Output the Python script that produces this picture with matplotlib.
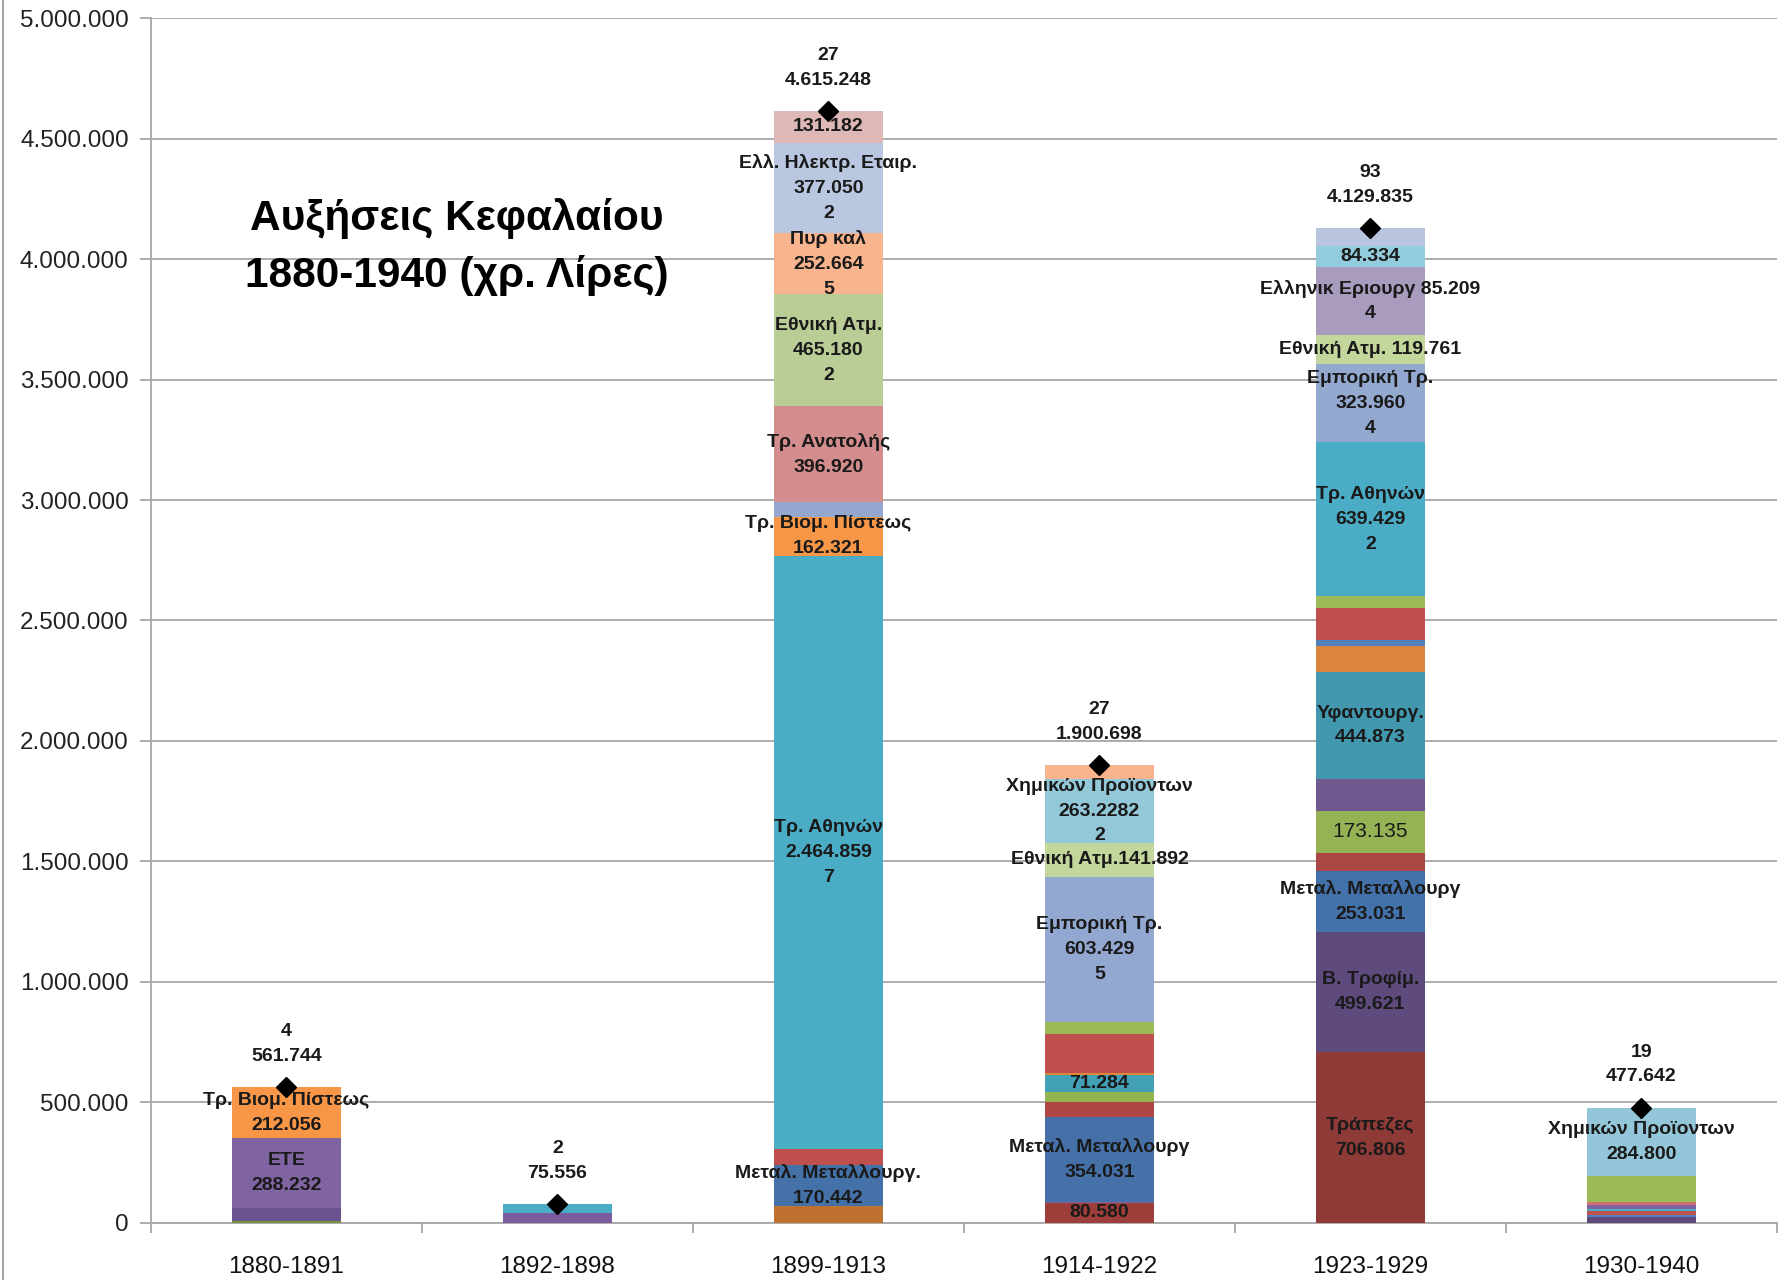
import matplotlib
matplotlib.use('Agg')
import matplotlib.pyplot as plt
import matplotlib.ticker as ticker
from matplotlib.lines import Line2D

plt.rcParams['font.family'] = ['Liberation Sans', 'DejaVu Sans']

# ── data (segments bottom -> top, per period) ──
periods = ['1880-1891', '1892-1898', '1899-1913', '1914-1922', '1923-1929', '1930-1940']
firm_counts = [4, 2, 27, 27, 93, 19]
totals = [561744, 75556, 4615248, 1900698, 4129835, 477642]

seg_1880 = [8000, 53456, 288232, 212056]
lab_1880 = ['', '', 'ETE\n288.232', 'Τρ. Βιομ. Πίστεως\n212.056']

seg_1892 = [40000, 35556]
lab_1892 = ['', '']

seg_1899 = [68000, 170442, 66000, 2464859, 162321, 60630, 396920, 465180,
            252664, 377050, 131182]
lab_1899 = ['', 'Μεταλ. Μεταλλουργ.\n170.442', '', 'Τρ. Αθηνών\n2.464.859\n7',
            'Τρ. Βιομ. Πίστεως\n162.321', '', 'Τρ. Ανατολής\n396.920',
            'Εθνική Ατμ.\n465.180\n2', 'Πυρ καλ\n252.664\n5',
            'Ελλ. Ηλεκτρ. Εταιρ.\n377.050\n2', '131.182']

seg_1914 = [80580, 5000, 354031, 60000, 42000, 71284, 7000, 162000, 50000,
            603429, 141892, 263228, 60254]
lab_1914 = ['80.580', '', 'Μεταλ. Μεταλλουργ\n354.031', '', '', '71.284', '', '', '',
            'Εμπορική Τρ.\n603.429\n5', 'Εθνική Ατμ.141.892',
            'Χημικών Προϊοντων\n263.2282\n2', '']

seg_1923 = [706806, 499621, 253031, 76000, 173135, 133000, 444873, 107000, 24000,
            133000, 50000, 639429, 323960, 119761, 285885, 84334, 76000]
lab_1923 = ['Τράπεζες\n706.806', 'Β. Τροφίμ.\n499.621', 'Μεταλ. Μεταλλουργ\n253.031',
            '', '173.135', '', 'Υφαντουργ.\n444.873', '', '', '', '',
            'Τρ. Αθηνών\n639.429\n2', 'Εμπορική Τρ.\n323.960\n4',
            'Εθνική Ατμ. 119.761', 'Ελληνικ Εριουργ 85.209\n4', '84.334', '']

seg_1930 = [22000, 10000, 16000, 10000, 14000, 12842, 108000, 284800]
lab_1930 = ['', '', '', '', '', '', '', 'Χημικών Προϊοντων\n284.800']

segments = [seg_1880, seg_1892, seg_1899, seg_1914, seg_1923, seg_1930]
seg_labels = [lab_1880, lab_1892, lab_1899, lab_1914, lab_1923, lab_1930]

# ── colours (Excel 2007 palette and shades) ──
col_1880 = ['#77933C', '#6A5290', '#8064A2', '#F79646']
col_1892 = ['#7A5C9D', '#4BACC6']
col_1899 = ['#BF7230', '#4472A8', '#C0504D', '#4BACC6', '#F79646', '#94A8CF',
            '#D38D8C', '#BACD96', '#F8B48D', '#B9C7E1', '#DDB8B7']
col_1914 = ['#9E3E3B', '#8064A2', '#4571A8', '#AE4643', '#94B451', '#42A1B7',
            '#E0883A', '#C0504D', '#9BBB59', '#93A8D0', '#C3D69B', '#93C8D9', '#F9B48E']
col_1923 = ['#8E3A36', '#5E4A7C', '#4372AA', '#AA4643', '#95B354', '#71588F',
            '#4198AF', '#DB843D', '#4F81BD', '#C0504D', '#9BBB59', '#4BACC6',
            '#93A9CF', '#C3D69B', '#A99BBD', '#93CDDD', '#B9C4DF']
col_1930 = ['#604A7B', '#4F81BD', '#C0504D', '#4BACC6', '#8064A2', '#D07370',
            '#9BBB59', '#93C6D8']
colors = [col_1880, col_1892, col_1899, col_1914, col_1923, col_1930]

PLAIN = {'173.135'}
GRID = '#A6A6A6'
TXT = '#1A1A1A'
LAB_FS = 14
LAB_LS = 1.6


def dots(v):
    return f'{int(round(v)):,}'.replace(',', '.')


fig = plt.figure(figsize=(17.9, 12.8), dpi=100, facecolor='white')
ax = fig.add_axes([0.0843, 0.0448, 0.9084, 0.9409])

BAR_W = 0.4
for i, (segs, labs, cols) in enumerate(zip(segments, seg_labels, colors)):
    bottom = 0
    for v, lab, c in zip(segs, labs, cols):
        ax.bar(i, v, bottom=bottom, width=BAR_W, color=c, linewidth=0, zorder=3)
        if lab:
            ax.text(i, bottom + v / 2, lab, ha='center', va='center',
                    fontsize=15 if lab in PLAIN else LAB_FS,
                    fontweight='normal' if lab in PLAIN else 'bold',
                    color=TXT, linespacing=LAB_LS, zorder=5)
        bottom += v

# totals: diamond + count/total label
ax.plot(range(len(totals)), totals, linestyle='none', marker='D',
        color='black', ms=10, zorder=6)
for i, (n, t) in enumerate(zip(firm_counts, totals)):
    ax.annotate(f'{n}\n{dots(t)}', xy=(i, t), xytext=(0, 16),
                textcoords='offset points', ha='center', va='bottom',
                fontsize=LAB_FS, fontweight='bold', color=TXT, linespacing=LAB_LS)

# title inside the plot
ax.text(0.63, 4.05e6, 'Αυξήσεις Κεφαλαίου\n1880-1940 (χρ. Λίρες)',
        ha='center', va='center', fontsize=30.5, fontweight='bold',
        color='black', linespacing=1.5, zorder=4)

# axes
ax.set_xlim(-0.5, len(periods) - 0.5)
ax.set_ylim(0, 5_000_000)
ax.yaxis.set_major_locator(ticker.MultipleLocator(500_000))
ax.yaxis.set_major_formatter(ticker.FuncFormatter(lambda v, p: dots(v)))
ax.tick_params(axis='y', length=8, width=1.3, color=GRID, labelsize=17.5,
               pad=8, labelcolor='#222222')

ax.set_xticks(range(len(periods)))
ax.set_xticklabels(periods)
ax.set_xticks([k - 0.5 for k in range(len(periods) + 1)], minor=True)
ax.tick_params(axis='x', which='major', length=0, labelsize=17.5, pad=24,
               labelcolor='#111111')
ax.tick_params(axis='x', which='minor', length=7, width=1.3, color=GRID)

ax.yaxis.grid(True, color=GRID, linewidth=1.3)
ax.set_axisbelow(True)
for s in ['top', 'right']:
    ax.spines[s].set_visible(False)
for s in ['left', 'bottom']:
    ax.spines[s].set_color(GRID)
    ax.spines[s].set_linewidth(1.3)

# chart-area border on the far left
fig.add_artist(Line2D([0.0015, 0.0015], [0, 1], transform=fig.transFigure,
                      color=GRID, linewidth=1.5))

fig.savefig('out.png', dpi=100, facecolor='white')
plt.close('all')
